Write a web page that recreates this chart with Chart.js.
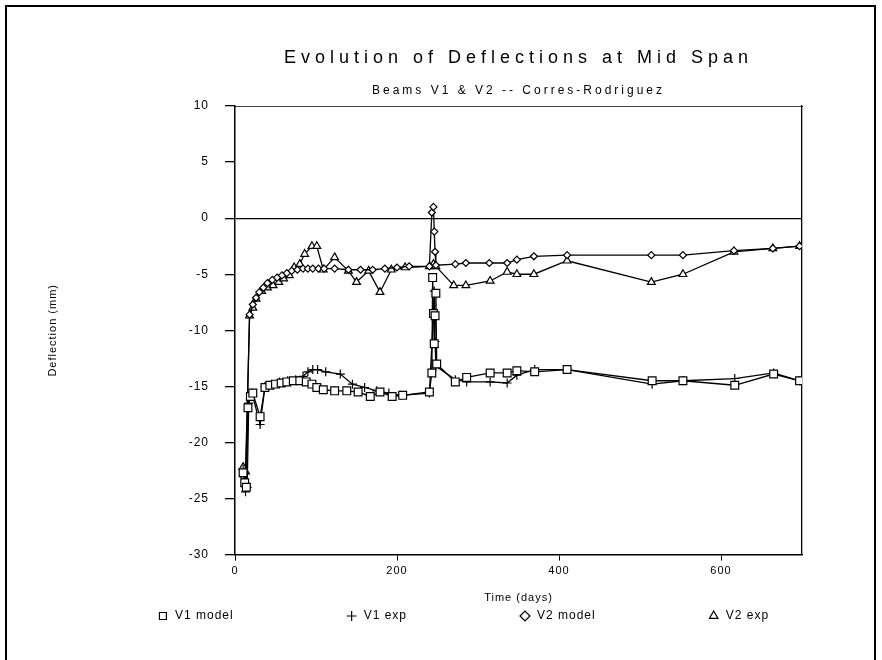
<!DOCTYPE html>
<html><head><meta charset="utf-8">
<script src="https://cdn.jsdelivr.net/npm/chart.js@4.4.1/dist/chart.umd.min.js"></script>
<style>html,body{margin:0;padding:0;background:#fff}canvas{display:block}</style>
</head><body>
<canvas id="c" width="882" height="660"></canvas>
<script>
// ---- data ----
const seriesNames = ['V1 model', 'V1 exp', 'V2 model', 'V2 exp'];
const v1ModelT = [10,12,14,16,19,22,31,37,43,50,57,64,72,80,88,95,101,109,123,138,152,167,179,194,207,240,243,244,245,246,247,248,249,272,286,315,336,348,370,410,515,553,617,665,697];
const v1ModelV = [-22.7,-23.6,-24.0,-16.9,-15.9,-15.6,-17.7,-15.1,-14.9,-14.8,-14.7,-14.6,-14.5,-14.5,-14.6,-14.8,-15.1,-15.3,-15.4,-15.4,-15.5,-15.9,-15.5,-15.9,-15.8,-15.5,-13.8,-5.3,-8.5,-11.2,-8.7,-6.7,-13.0,-14.6,-14.2,-13.8,-13.8,-13.6,-13.7,-13.5,-14.5,-14.5,-14.9,-13.9,-14.5];
const v1ExpT = [10,13,15,17,21,31,37,45,55,65,75,84,90,96,102,112,130,145,160,175,190,205,240,245,246,247,248,272,286,315,336,348,370,410,515,553,617,665,697];
const v1ExpV = [-22.4,-24.4,-24.0,-16.5,-15.6,-18.4,-15.0,-14.8,-14.6,-14.5,-14.4,-14.1,-13.7,-13.5,-13.5,-13.7,-13.9,-14.8,-15.1,-15.4,-15.6,-15.8,-15.6,-8.5,-6.5,-11.0,-13.2,-14.4,-14.6,-14.6,-14.7,-14.0,-13.5,-13.5,-14.8,-14.5,-14.3,-13.8,-14.5];
const v2ModelT = [10,13,18,22,26,30,35,40,46,52,58,64,70,77,84,90,96,103,110,123,140,155,170,185,200,215,240,243,245,246,247,248,272,285,314,336,348,369,410,514,553,616,664,697];
const v2ModelV = [-23.0,-23.9,-8.6,-7.7,-7.1,-6.6,-6.2,-5.8,-5.5,-5.3,-5.1,-4.9,-4.7,-4.6,-4.5,-4.5,-4.5,-4.5,-4.5,-4.5,-4.6,-4.6,-4.6,-4.5,-4.4,-4.3,-4.3,0.5,1.0,-1.2,-3.0,-4.2,-4.1,-4.0,-4.0,-4.0,-3.7,-3.4,-3.3,-3.3,-3.3,-2.9,-2.7,-2.5];
const v2ExpT = [10,13,18,22,26,33,40,47,54,60,67,73,80,86,95,101,109,123,140,150,165,179,193,210,240,245,248,270,285,315,336,348,369,410,514,553,616,664,697];
const v2ExpV = [-22.2,-22.6,-8.7,-8.0,-7.2,-6.5,-6.2,-6.0,-5.7,-5.4,-5.1,-4.4,-4.1,-3.2,-2.5,-2.5,-4.6,-3.5,-4.7,-5.7,-4.7,-6.6,-4.6,-4.4,-4.3,-4.1,-4.3,-6.0,-6.0,-5.6,-4.8,-5.0,-5.0,-3.8,-5.7,-5.0,-3.0,-2.7,-2.5];
const xTicks = [0, 200, 400, 600];
const yTicks = [-30, -25, -20, -15, -10, -5, 0, 5, 10];

const zip = (ts, vs) => ts.map((t, i) => ({x: t, y: vs[i]}));
const FONT = "'Liberation Sans', 'DejaVu Sans', sans-serif";

function ds(label, ts, vs, style, radius) {
  return {
    label, data: zip(ts, vs), showLine: true, borderColor: '#000', borderWidth: 1.3,
    pointStyle: style, pointRadius: radius, pointBorderColor: '#000', pointBorderWidth: 1.2,
    pointBackgroundColor: '#fff', backgroundColor: '#fff', tension: 0, fill: false
  };
}

const letterSpacing = {
  id: 'letterSpacing',
  afterInit(chart) {
    chart.ctx.letterSpacing = '1px';
    const TitleCls = Chart.Title._element;
    chart.boxes.forEach(b => {
      if (b instanceof TitleCls) {
        const orig = b.draw.bind(b);
        b.draw = function () {
          const ctx = this.ctx; const prev = ctx.letterSpacing;
          ctx.letterSpacing = String(this.options.text).startsWith('Evolution') ? '5px' : '3px';
          orig(); ctx.letterSpacing = prev;
        };
      }
    });
  },
  beforeUpdate(chart) { chart.ctx.letterSpacing = '1px'; },
  beforeDraw(chart) { chart.ctx.letterSpacing = '1px'; }
};

const frame = {
  id: 'frame',
  beforeDraw(chart) {
    const ctx = chart.ctx; ctx.save();
    ctx.fillStyle = '#fff'; ctx.fillRect(0, 0, chart.width, chart.height);
    ctx.strokeStyle = '#000'; ctx.lineWidth = 2;
    ctx.beginPath();
    ctx.moveTo(6, chart.height + 2); ctx.lineTo(6, 6); ctx.lineTo(875, 6); ctx.lineTo(875, chart.height + 2);
    ctx.stroke(); ctx.restore();
  }
};

new Chart(document.getElementById('c'), {
  type: 'scatter',
  data: { datasets: [
    ds(seriesNames[0], v1ModelT, v1ModelV, 'rect', 5.5),
    ds(seriesNames[1], v1ExpT, v1ExpV, 'cross', 4.5),
    ds(seriesNames[2], v2ModelT, v2ModelV, 'rectRot', 3.5),
    ds(seriesNames[3], v2ExpT, v2ExpV, 'triangle', 4.5)
  ]},
  options: {
    responsive: false, animation: false, devicePixelRatio: 1,
    layout: { padding: { left: 44, right: 0, top: 0, bottom: 28 } },
    plugins: {
      tooltip: { enabled: false },
      title: { display: true, text: 'Evolution of Deflections at Mid Span', color: '#000', fullSize: false,
        font: { family: FONT, size: 18, weight: 'normal' }, padding: { top: 47, bottom: 0 } },
      subtitle: { display: true, text: 'Beams V1 & V2 -- Corres-Rodriguez', color: '#000', fullSize: false,
        font: { family: FONT, size: 12, weight: 'normal' }, padding: { top: 15, bottom: 8 } },
      legend: {
        display: true, position: 'bottom', align: 'center',
        title: { display: true, text: '', font: { size: 10 }, padding: { top: -123, bottom: 0 } },
        labels: { usePointStyle: true, color: '#000', padding: 112, boxHeight: 7,
          font: { family: FONT, size: 12 } }
      }
    },
    scales: {
      x: {
        type: 'linear', min: 0, max: 700, position: 'bottom',
        afterBuildTicks: s => { s.ticks = xTicks.map(v => ({value: v})); },
        ticks: { color: '#000', font: { family: FONT, size: 11 }, padding: 4, maxRotation: 0 },
        grid: { display: true, drawOnChartArea: false, tickLength: 6, color: '#000', tickColor: '#000' },
        border: { display: true, color: '#000', width: 1.5 },
        title: { display: true, text: 'Time (days)', color: '#000', font: { family: FONT, size: 11 }, padding: { top: 10, bottom: 4 } }
      },
      xTop: {
        type: 'linear', min: 0, max: 700, position: 'top', display: true,
        ticks: { display: false }, grid: { display: false },
        border: { display: true, color: '#444', width: 1 },
        afterFit: s => { s.height = 0; }
      },
      y: {
        type: 'linear', min: -30, max: 10, position: 'left',
        afterBuildTicks: s => { s.ticks = yTicks.map(v => ({value: v})); },
        afterFit: s => { s.width = 235 - 44; },
        ticks: { color: '#000', font: { family: FONT, size: 12 }, padding: 16 },
        grid: { display: true, drawOnChartArea: true, tickLength: 10, tickColor: '#000', lineWidth: 1.3,
          color: c => (c.tick && c.tick.value === 0) ? '#000' : 'rgba(0,0,0,0)' },
        border: { display: true, color: '#000', width: 1.5 },
        title: { display: true, text: 'Deflection (mm)', color: '#000', font: { family: FONT, size: 11 }, padding: { top: 2, bottom: 0 } }
      },
      yRight: {
        type: 'linear', min: -30, max: 10, position: 'right', display: true,
        ticks: { display: false }, grid: { display: false },
        border: { display: true, color: '#000', width: 1.3 },
        afterFit: s => { s.width = 80; }
      }
    }
  },
  plugins: [letterSpacing, frame]
});
</script>
</body></html>
